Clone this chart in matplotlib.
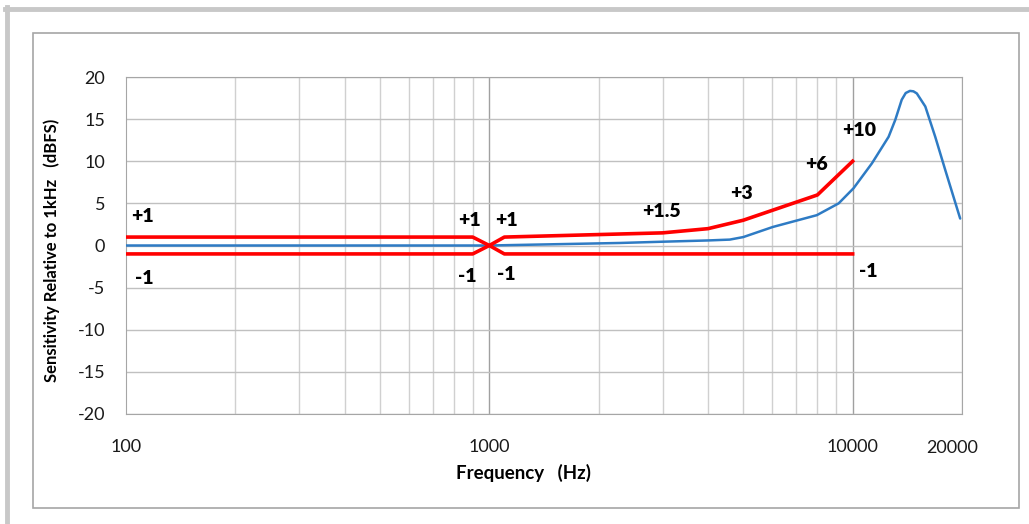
import matplotlib
matplotlib.use("Agg")
import matplotlib.pyplot as plt
from matplotlib.lines import Line2D
from matplotlib.patches import Rectangle

plt.rcParams["axes.unicode_minus"] = False

# ---- data ----
upper_f = [100, 900, 1000, 1100, 3000, 4000, 5000, 8000, 10000]
upper_v = [1, 1, 0, 1, 1.5, 2, 3, 6, 10]
lower_f = [100, 900, 1000, 1100, 10000]
lower_v = [-1, -1, 0, -1, -1]

resp_f = [100, 1000, 2290, 3000, 4000, 4590, 5000, 6030, 7970, 9152, 10060,
          11300, 12560, 13100, 13650, 14000, 14380, 14700, 15020, 15850, 16880, 17990, 19770]
resp_v = [0, 0, 0.3, 0.45, 0.6, 0.7, 1.0, 2.2, 3.6, 5.0, 6.8,
          9.75, 12.9, 14.9, 17.3, 18.1, 18.35, 18.3, 18.05, 16.5, 12.9, 8.95, 3.2]

labels = ["+1", "-1", "+1", "+1", "-1", "-1", "+1.5", "+3", "+6", "+10", "-1"]
label_f = [111, 112, 881, 1114, 872, 1114, 2969, 4955, 7960, 10390, 11066]
label_v = [3.4, -3.9, 3.0, 3.0, -3.7, -3.4, 4.0, 6.2, 9.6, 13.7, -3.1]

xticks = [100, 1000, 10000]
xticklabels = ["100", "1000", "10000"]
yticks = list(range(-20, 21, 5))

FONT = "Lato"

fig = plt.figure(figsize=(10.29, 5.24), dpi=100)

# outer borders
fig.add_artist(Line2D([7/1029, 7/1029], [0, 1 - 7/524], color="#c8c8c8", lw=3.5, transform=fig.transFigure))
fig.add_artist(Line2D([5/1029, 1], [1 - 9/524, 1 - 9/524], color="#c8c8c8", lw=3.5, transform=fig.transFigure))
fig.add_artist(Rectangle((33/1029, 1 - 508/524), (1019 - 33)/1029, (508 - 33)/524,
                         fill=False, edgecolor="#a6a6a6", lw=1.2, transform=fig.transFigure))

ax = fig.add_axes([126/1029, (524 - 414)/524, (962 - 126)/1029, (414 - 77)/524])
ax.set_xscale("log")
ax.set_xlim(100, 20000)
ax.set_ylim(-20, 20)

# grid
minor = [m * d for d in (100, 1000) for m in range(2, 10)] + [20000]
for f in minor:
    ax.axvline(f, color="#d0d0d0", lw=1.0, zorder=0)
for f in (1000, 10000):
    ax.axvline(f, color="#a0a0a0", lw=1.0, zorder=0)
for y in yticks:
    ax.axhline(y, color="#c0c0c0", lw=1.0, zorder=0)

ax.plot(resp_f, resp_v, color="#2e7bc4", lw=1.8, zorder=3, solid_capstyle="round",
        solid_joinstyle="round")
ax.plot(upper_f, upper_v, color="#ff0000", lw=2.6, zorder=4)
ax.plot(lower_f, lower_v, color="#ff0000", lw=2.6, zorder=4)

for t, f, v in zip(labels, label_f, label_v):
    ax.text(f, v, t, ha="center", va="center", fontsize=14, fontweight="heavy",
            family=FONT, color="#000000")

for s in ax.spines.values():
    s.set_color("#a6a6a6")
ax.set_xticks(xticks)
ax.set_xticklabels(xticklabels)
ax.xaxis.set_minor_locator(matplotlib.ticker.NullLocator())
ax.set_yticks(yticks)
ax.tick_params(axis="both", length=0, labelsize=13, colors="#1a1a1a")
ax.tick_params(axis="x", pad=18)
ax.tick_params(axis="y", pad=15)
for lab in ax.get_xticklabels() + ax.get_yticklabels():
    lab.set_family(FONT)
ax.annotate("20000", xy=(20000, 0), xycoords=("data", "axes fraction"),
            xytext=(-10, -34), textcoords="offset pixels", ha="center", va="center",
            fontsize=13, family=FONT, color="#1a1a1a")

fig.text(524/1029, 1 - 473/524, "Frequency   (Hz)", ha="center", va="center",
         fontsize=13.5, fontweight="bold", family=FONT)
fig.text(52/1029, 1 - 250/524, "Sensitivity Relative to 1kHz   (dBFS)", ha="center",
         va="center", rotation=90, fontsize=12, fontweight="bold", family=FONT)

fig.savefig("out.png", dpi=100)
